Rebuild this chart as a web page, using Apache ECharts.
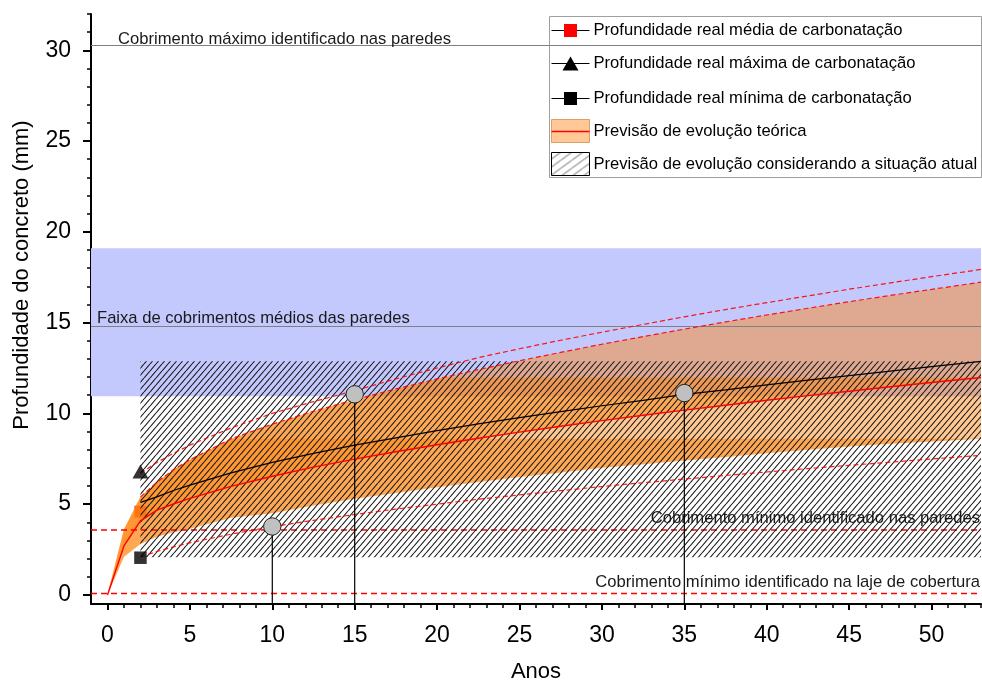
<!DOCTYPE html>
<html>
<head>
<meta charset="utf-8">
<script src="https://cdn.jsdelivr.net/npm/echarts@6/dist/echarts.min.js"></script>
<style>
  html, body { margin: 0; padding: 0; background: #fff; }
  #chart { width: 982px; height: 681px; }
</style>
</head>
<body>
<div id="chart"></div>
<script>
// ---- data (years, depths in mm) ----
const years = [0, 1, 2, 3, 4, 5, 7.5, 10, 12.5, 15, 17.5, 20, 22.5, 25, 27.5, 30, 32.5, 35, 37.5, 40, 42.5, 45, 47.5, 50, 53];

// theoretical forecast: central curve and band limits
const theoMid   = [0, 2.7, 4.08, 4.67, 5.01, 5.32, 5.98, 6.54, 7.04, 7.48, 7.89, 8.27, 8.63, 8.97, 9.29, 9.6, 9.9, 10.18, 10.45, 10.72, 10.98, 11.22, 11.47, 11.7, 11.98];
const theoUpper = [0, 3.6, 5.4, 6.2, 6.9, 7.45, 8.6, 9.41, 10.12, 10.76, 11.35, 11.9, 12.41, 12.9, 13.36, 13.81, 14.23, 14.64, 15.04, 15.42, 15.79, 16.15, 16.5, 16.83, 17.23];
const theoLower = [0, 2.1, 2.8, 3.2, 3.45, 3.65, 4.25, 4.5, 4.92, 5.3, 5.62, 5.93, 6.22, 6.5, 6.75, 7.0, 7.2, 7.4, 7.6, 7.8, 8.0, 8.18, 8.33, 8.45, 8.6];

// forecast from the measured situation
const currMid   = [null, null, 5.1, 5.4, 5.75, 6.05, 6.72, 7.3, 7.8, 8.25, 8.65, 9.05, 9.42, 9.77, 10.1, 10.42, 10.72, 11.05, 11.3, 11.57, 11.83, 12.08, 12.33, 12.58, 12.87];
const currUpper = [null, null, 6.7, 7.3, 7.8, 8.25, 9.2, 10.0, 10.65, 11.25, 11.9, 12.5, 13.07, 13.56, 14.03, 14.47, 14.9, 15.32, 15.72, 16.1, 16.47, 16.84, 17.19, 17.53, 17.93];
const currLower = [null, null, 2.09, 2.39, 2.65, 2.87, 3.35, 3.76, 4.11, 4.43, 4.73, 5.0, 5.27, 5.51, 5.74, 5.97, 6.18, 6.38, 6.58, 6.77, 6.96, 7.14, 7.31, 7.49, 7.69];

// measured carbonation depths
const measYear = 2;
const measMean = 4.58;
const measMax = 6.8;
const measMin = 2.05;

// years where the forecasts reach a cover depth
const reachYears  = [10, 15, 35];
const reachDepths = [3.77, 11.05, 11.12];

// cover references
const coverMaxWalls  = 30.3;
const coverMeanWalls = 14.79;
const coverMeanBand  = [10.95, 19.1];
const coverMinWalls  = 3.58;
const coverMinSlab   = 0.08;

// hatched zone of the current-situation forecast
const hatchYears  = [2, 53];
const hatchDepths = [2.08, 12.87];

// axes
const xRange = [-1, 53];
const yRange = [-0.5, 32];
const xTicks = [0, 5, 10, 15, 20, 25, 30, 35, 40, 45, 50];
const xMinorTicks = [];
for (let v = 0; v <= 53; v++) xMinorTicks.push(v);
const yTicks = [0, 5, 10, 15, 20, 25, 30];
const yMinorTicks = [];
for (let v = 0; v <= 32; v++) yMinorTicks.push(v);

const legendLabels = [
  'Profundidade real média de carbonatação',
  'Profundidade real máxima de carbonatação',
  'Profundidade real mínima de carbonatação',
  'Previsão de evolução teórica',
  'Previsão de evolução considerando a situação atual'
];

// ---- helpers ----
const FONT = "'Liberation Sans', Arial, sans-serif";
const ORANGE = 'rgba(255,131,11,0.45)';

function pairs(xs, ys) {
  const out = [];
  for (let i = 0; i < xs.length; i++) if (ys[i] != null) out.push([xs[i], ys[i]]);
  return out;
}

// part of the band between lo and min(up, cap); empty where lo >= cap
function capRegion(xs, lo, up, cap) {
  const rx = [], rl = [], rh = [];
  const push = (x, l, u) => { rx.push(x); rl.push(l); rh.push(Math.max(l, Math.min(u, cap))); };
  for (let i = 0; i < xs.length; i++) {
    if (i > 0) {
      const ts = [];
      [up, lo].forEach(arr => {
        const a = arr[i - 1] - cap, b = arr[i] - cap;
        if (a * b < 0) ts.push(a / (a - b));
      });
      ts.sort((p, q) => p - q).forEach(t => {
        push(xs[i - 1] + t * (xs[i] - xs[i - 1]),
             lo[i - 1] + t * (lo[i] - lo[i - 1]),
             up[i - 1] + t * (up[i] - up[i - 1]));
      });
    }
    push(xs[i], lo[i], up[i]);
  }
  return { rx, rl, rh };
}

const lowCap = capRegion(years, theoLower, theoUpper, theoLower[theoLower.length - 1]);
const midCap = capRegion(years, theoMid, theoUpper, theoMid[theoMid.length - 1]);

function polygonPoints(api, xs, lo, hi) {
  const pts = [];
  for (let i = 0; i < xs.length; i++) pts.push(api.coord([xs[i], hi[i]]));
  for (let i = xs.length - 1; i >= 0; i--) pts.push(api.coord([xs[i], lo[i]]));
  return pts;
}

function hatchTile(w, h, color, lw) {
  const c = document.createElement('canvas');
  c.width = w; c.height = h;
  const g = c.getContext('2d');
  g.strokeStyle = color; g.lineWidth = lw;
  g.beginPath();
  [-w, 0, w].forEach(dx => { g.moveTo(dx, h); g.lineTo(dx + w, 0); });
  g.stroke();
  return c;
}
const hatchImg = hatchTile(6, 7, '#1a1a1a', 1.1);
const hatchLegendImg = hatchTile(11, 8, '#555', 0.9);

// ---- chart ----
const chart = echarts.init(document.getElementById('chart'), null, { renderer: 'canvas' });

const dashedRed = { color: 'rgba(255,0,0,0.9)', width: 1.2, type: [5, 3] };
const legendText = { fontSize: 16.6, fontFamily: FONT, fill: '#000', verticalAlign: 'middle' };
const noteLabel = { show: true, fontSize: 16.6, color: '#1a1a1a', fontFamily: FONT };

// horizontal cover line across the x range, with its note at the right end
function coverLine(level, z, note) {
  return {
    type: 'line', z: z, silent: true, symbol: 'none',
    data: [[xRange[0], level], [xRange[1], level]],
    lineStyle: { color: '#ff0000', width: 1.4, type: [6, 4] },
    endLabel: {
      show: true, formatter: note, fontSize: 16.6, color: '#1a1a1a', fontFamily: FONT,
      align: 'right', verticalAlign: 'bottom', offset: [-1, -3], distance: 0
    }
  };
}

const option = {
  animation: false,
  backgroundColor: '#fff',
  textStyle: { fontFamily: FONT },
  grid: { left: 91, right: 1, top: 14, bottom: 77, containLabel: false, outerBoundsMode: 'none' },
  xAxis: [
    {
      type: 'value', min: xRange[0], max: xRange[1], position: 'bottom',
      axisLine: { show: true, onZero: false, lineStyle: { color: '#000', width: 2 } },
      axisTick: { show: true, customValues: xTicks, length: 6, lineStyle: { color: '#000', width: 2 } },
      axisLabel: { customValues: xTicks, fontSize: 23, color: '#000', margin: 20, fontFamily: FONT },
      splitLine: { show: false },
      name: 'Anos', nameLocation: 'middle', nameGap: 57,
      nameTextStyle: { fontSize: 22, color: '#000', fontFamily: FONT }
    },
    {
      type: 'value', min: xRange[0], max: xRange[1], position: 'bottom',
      axisLine: { show: false, onZero: false },
      axisTick: { show: true, customValues: xMinorTicks, length: 4, lineStyle: { color: '#000', width: 1.5 } },
      axisLabel: { show: false },
      splitLine: { show: false }
    }
  ],
  yAxis: [
    {
      type: 'value', min: yRange[0], max: yRange[1], position: 'left',
      axisLine: { show: true, onZero: false, lineStyle: { color: '#000', width: 2 } },
      axisTick: { show: true, customValues: yTicks, length: 8, lineStyle: { color: '#000', width: 2 } },
      axisLabel: { customValues: yTicks, fontSize: 23, color: '#000', margin: 20, fontFamily: FONT },
      splitLine: { show: false },
      name: 'Profundidade do concreto (mm)', nameLocation: 'middle', nameGap: 58,
      nameTextStyle: { fontSize: 22, color: '#000', fontFamily: FONT, padding: [0, 0, 0, 68] }
    },
    {
      type: 'value', min: yRange[0], max: yRange[1], position: 'left',
      axisLine: { show: false, onZero: false },
      axisTick: { show: true, customValues: yMinorTicks, length: 4, lineStyle: { color: '#000', width: 1.5 } },
      axisLabel: { show: false },
      splitLine: { show: false }
    }
  ],
  series: [
    // band of mean wall covers + its reference lines
    {
      type: 'line', data: [], z: 1, silent: true,
      markArea: {
        silent: true,
        itemStyle: { color: '#c3c8fd' },
        data: [[{ yAxis: coverMeanBand[0] }, { yAxis: coverMeanBand[1] }]]
      }
    },
    {
      type: 'line', data: [], z: 2, silent: true,
      markLine: {
        silent: true, symbol: 'none', animation: false,
        lineStyle: { color: '#808080', width: 1, type: 'solid' },
        label: noteLabel,
        data: [
          { yAxis: coverMaxWalls, label: { position: 'insideStartTop', distance: [27, -3], formatter: 'Cobrimento máximo identificado nas paredes' } },
          { yAxis: coverMeanWalls, label: { position: 'insideStartTop', distance: [6, 0], formatter: 'Faixa de cobrimentos médios das paredes' } }
        ]
      }
    },
    // measured mean depth (sits under the forecast band)
    {
      type: 'scatter', z: 3, silent: true,
      data: [[measYear, measMean]], symbol: 'rect', symbolSize: 12,
      itemStyle: { color: '#ff0000' }
    },
    // theoretical forecast band
    {
      type: 'custom', z: 4, silent: true, data: [[0]],
      renderItem: function (params, api) {
        return {
          type: 'group',
          children: [
            { type: 'polygon', shape: { points: polygonPoints(api, years, theoLower, theoUpper) }, style: { fill: ORANGE } },
            { type: 'polygon', shape: { points: polygonPoints(api, lowCap.rx, lowCap.rl, lowCap.rh) }, style: { fill: ORANGE } },
            { type: 'polygon', shape: { points: polygonPoints(api, midCap.rx, midCap.rl, midCap.rh) }, style: { fill: ORANGE } }
          ]
        };
      }
    },
    // minimum cover lines (the walls one sits under the hatch)
    coverLine(coverMinWalls, 5, 'Cobrimento mínimo identificado nas paredes'),
    coverLine(coverMinSlab, 7, 'Cobrimento mínimo identificado na laje de cobertura'),
    // hatched zone
    {
      type: 'custom', z: 6, silent: true, data: [[0]],
      renderItem: function (params, api) {
        const p0 = api.coord([hatchYears[0], hatchDepths[1]]);
        const p1 = api.coord([hatchYears[1], hatchDepths[0]]);
        return {
          type: 'rect',
          shape: { x: p0[0], y: p0[1], width: p1[0] - p0[0], height: p1[1] - p0[1] },
          style: { fill: { image: hatchImg, repeat: 'repeat' } }
        };
      }
    },
    // curves
    { type: 'line', z: 7, silent: true, symbol: 'none', data: pairs(years, theoMid), lineStyle: { color: '#ff0000', width: 1.4 } },
    { type: 'line', z: 7, silent: true, symbol: 'none', data: pairs(years.slice(2), theoUpper.slice(2)), lineStyle: dashedRed },
    { type: 'line', z: 7, silent: true, symbol: 'none', data: pairs(years, currMid), lineStyle: { color: '#000', width: 1.2 } },
    { type: 'line', z: 7, silent: true, symbol: 'none', data: pairs(years, currUpper), lineStyle: dashedRed },
    { type: 'line', z: 7, silent: true, symbol: 'none', data: pairs(years, currLower), lineStyle: dashedRed },
    // measured max / min
    { type: 'scatter', z: 8, silent: true, data: [[measYear, measMax]], symbol: 'triangle', symbolSize: [16, 14], itemStyle: { color: '#000' } },
    { type: 'scatter', z: 8, silent: true, data: [[measYear, measMin]], symbol: 'rect', symbolSize: 12.5, itemStyle: { color: '#000' } },
    // years reaching the covers, with drop lines
    {
      type: 'custom', z: 9, silent: true,
      data: reachYears.map((x, i) => [x, reachDepths[i]]),
      renderItem: function (params, api) {
        const x = api.value(0), y = api.value(1);
        const c = api.coord([x, y]);
        const b = api.coord([x, yRange[0]]);
        return {
          type: 'group',
          children: [
            { type: 'line', shape: { x1: c[0], y1: c[1], x2: b[0], y2: b[1] }, style: { stroke: '#000', lineWidth: 1.2 } },
            { type: 'circle', shape: { cx: c[0], cy: c[1], r: 8.7 }, style: { fill: '#c0c0c0', stroke: '#222', lineWidth: 1 } }
          ]
        };
      }
    }
  ],
  graphic: [
    {
      type: 'group', left: 549, top: 16, z: 100, silent: true,
      children: [
        { type: 'rect', shape: { x: 0, y: 0, width: 432, height: 161 }, style: { fill: '#fff', stroke: '#a0a0a0', lineWidth: 1 } },
        // mean
        { type: 'line', shape: { x1: 2, y1: 14, x2: 40, y2: 14 }, style: { stroke: '#000', lineWidth: 1 } },
        { type: 'rect', shape: { x: 14.5, y: 7.5, width: 13, height: 13 }, style: { fill: '#ff0000' } },
        // max
        { type: 'line', shape: { x1: 2, y1: 47, x2: 40, y2: 47 }, style: { stroke: '#000', lineWidth: 1 } },
        { type: 'polygon', shape: { points: [[21, 40], [29, 54], [13, 54]] }, style: { fill: '#000' } },
        // min
        { type: 'line', shape: { x1: 2, y1: 82, x2: 40, y2: 82 }, style: { stroke: '#000', lineWidth: 1 } },
        { type: 'rect', shape: { x: 14.5, y: 75.5, width: 13, height: 13 }, style: { fill: '#000' } },
        // theoretical band
        { type: 'rect', shape: { x: 2, y: 103, width: 38, height: 23 }, style: { fill: '#ffc896', stroke: '#d9a06c', lineWidth: 1 } },
        { type: 'line', shape: { x1: 2, y1: 115, x2: 40, y2: 115 }, style: { stroke: '#ff0000', lineWidth: 1.5 } },
        // hatched band
        { type: 'rect', shape: { x: 2, y: 136, width: 38, height: 23 }, style: { fill: { image: hatchLegendImg, repeat: 'repeat' }, stroke: '#000', lineWidth: 1 } },
        // labels
        { type: 'text', x: 44, y: 14, style: Object.assign({ text: legendLabels[0] }, legendText) },
        { type: 'text', x: 44, y: 47, style: Object.assign({ text: legendLabels[1] }, legendText) },
        { type: 'text', x: 44, y: 82, style: Object.assign({ text: legendLabels[2] }, legendText) },
        { type: 'text', x: 44, y: 115, style: Object.assign({ text: legendLabels[3] }, legendText) },
        { type: 'text', x: 44, y: 148, style: Object.assign({ text: legendLabels[4] }, legendText) }
      ]
    }
  ]
};

chart.setOption(option);
</script>
</body>
</html>
